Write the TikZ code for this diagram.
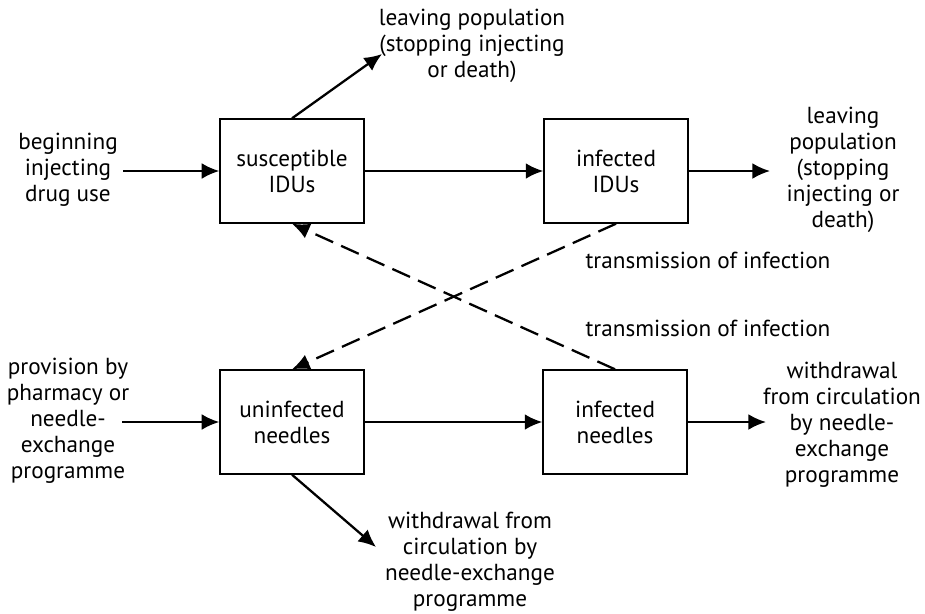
\documentclass[tikz,border=0pt]{standalone}
\usepackage{fontspec}
\setmainfont{PT Sans}
\usetikzlibrary{arrows.meta}
\begin{document}
\begin{tikzpicture}[
    x=0.02cm, y=-0.02cm,
    every node/.style={font=\fontsize{13.2}{14.8}\selectfont, align=center},
    compbox/.style={draw, line width=0.8pt, minimum width=2.88cm, minimum height=2.08cm},
    flow/.style={-{Latex[length=10pt,width=9pt]}, line width=1.3pt},
    infect/.style={flow, dash pattern=on 11pt off 5pt}
]
\useasboundingbox (0,0) rectangle (925,613);

% IDUs
\node[compbox] (sus) at (292,171) {susceptible\\IDUs};
\node[compbox] (inf) at (616,171) {infected\\IDUs};
\node (beg) at (68,170) {beginning\\injecting\\drug use};
\node (leaveT) at (472,46) {leaving population\\(stopping injecting\\or death)};
\node (leaveR) at (843,170) {leaving\\population\\(stopping\\injecting or\\death)};
\coordinate (lt) at (382,54);
\coordinate (begE) at (123,171);
\coordinate (lrW) at (770,171);

\draw[flow] (begE) -- (sus.west);
\draw[flow] (sus) -- (inf);
\draw[flow] (sus.north) -- (lt);
\draw[flow] (inf.east) -- (lrW);

% needles
\node[compbox] (unin) at (292,422) {uninfected\\needles};
\node[compbox] (infn) at (615,422) {infected\\needles};
\node (prov) at (68,421) {provision by\\pharmacy or\\needle-\\exchange\\programme};
\node (withB) at (470,562) {withdrawal from\\circulation by\\needle-exchange\\programme};
\node (withR) at (842,425) {withdrawal\\from circulation\\by needle-\\exchange\\programme};
\coordinate (wb) at (376,547);
\coordinate (provE) at (122,422);
\coordinate (wrW) at (766,422);

\draw[flow] (provE) -- (unin.west);
\draw[flow] (unin) -- (infn);
\draw[flow] (unin.south) -- (wb);
\draw[flow] (infn.east) -- (wrW);

% transmission
\draw[infect] (inf.south) -- (unin.north);
\draw[infect] (infn.north) -- (sus.south);
\node (tr1) at (708,260) {transmission of infection};
\node (tr2) at (708,328) {transmission of infection};
\end{tikzpicture}
\end{document}
